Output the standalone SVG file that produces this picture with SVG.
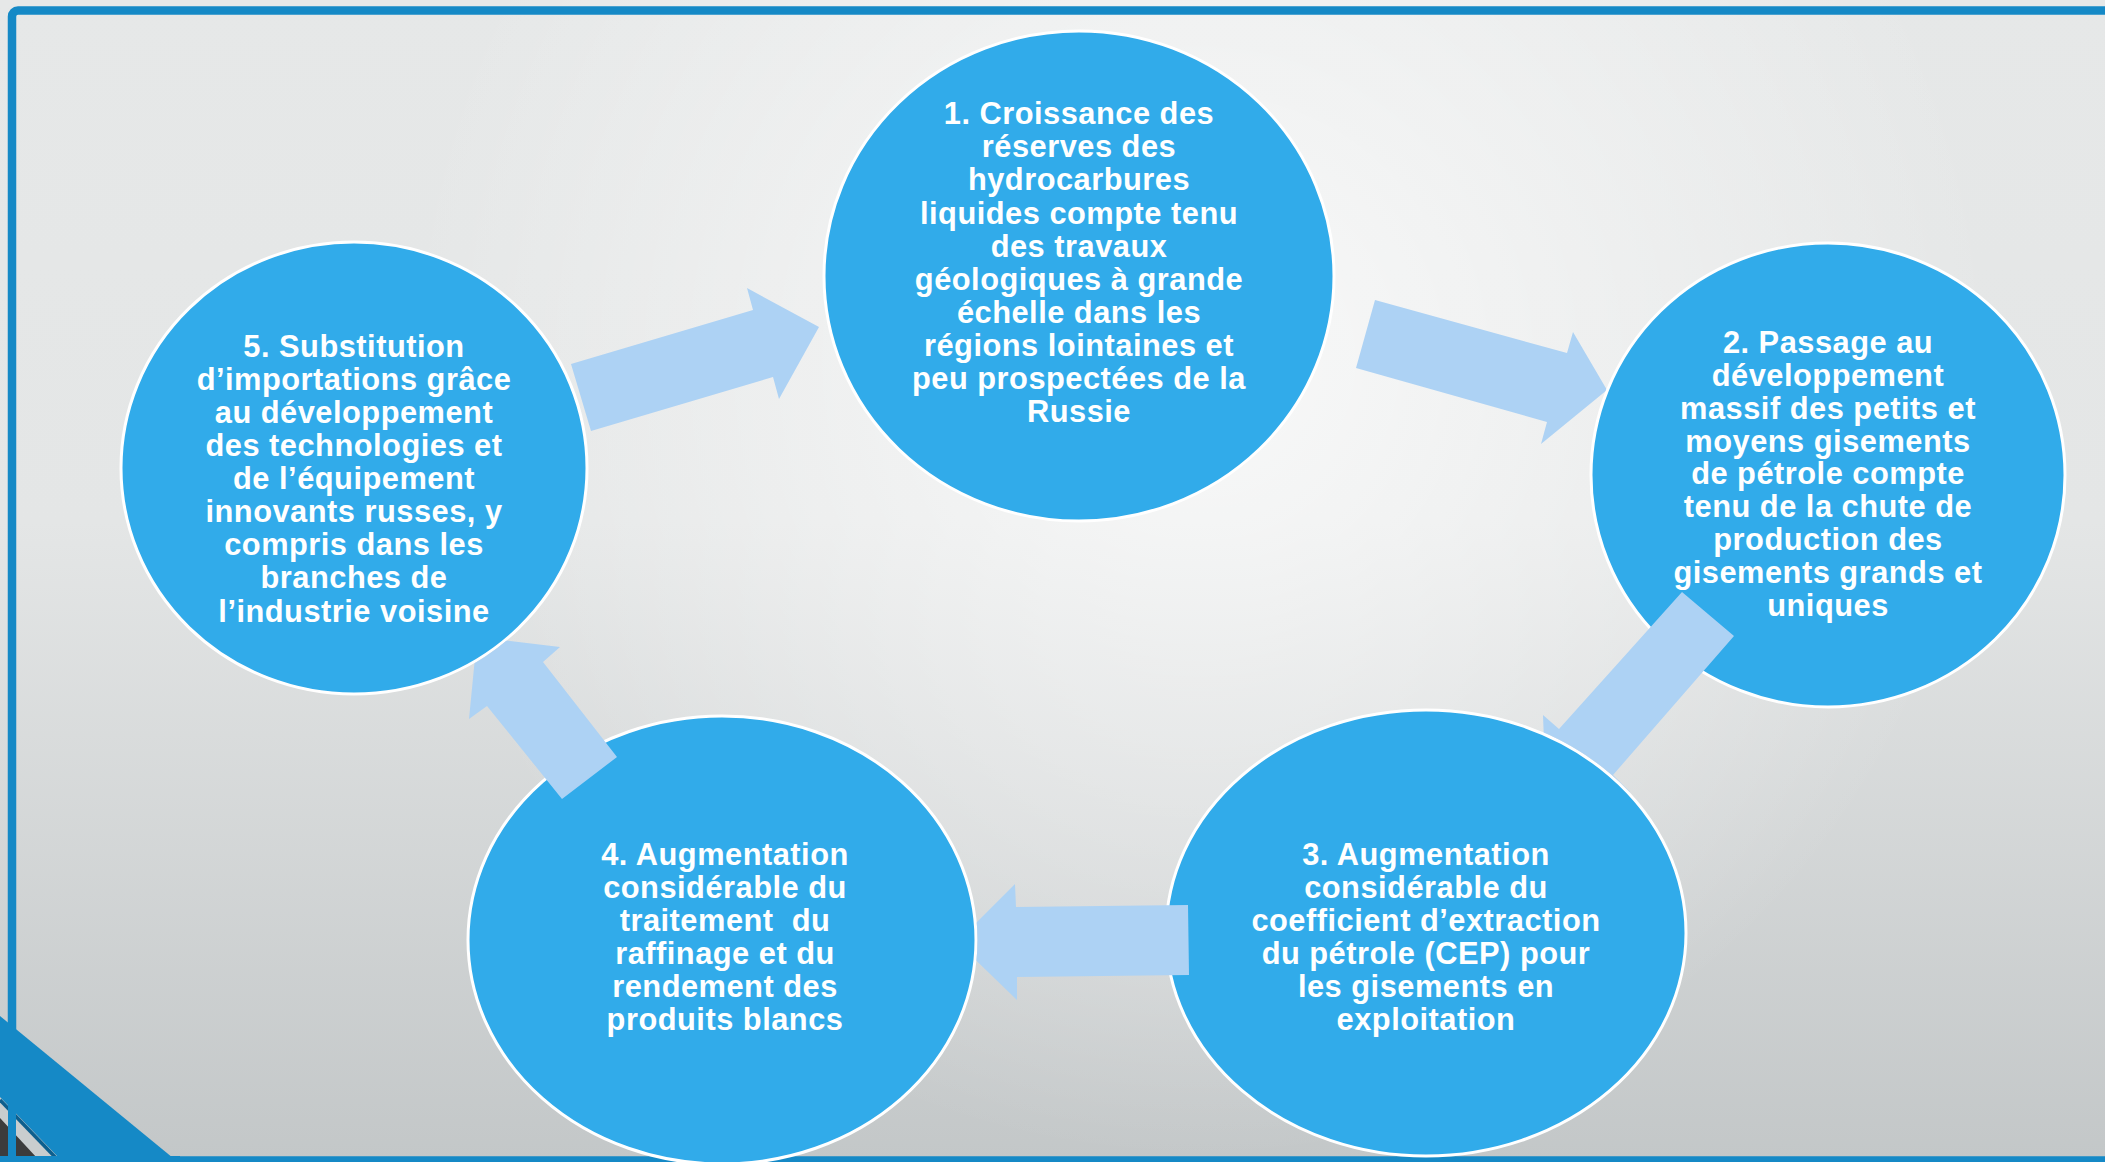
<svg xmlns="http://www.w3.org/2000/svg" width="2105" height="1162" viewBox="0 0 2105 1162">
<defs>
<linearGradient id="bgLin" x1="0" y1="0" x2="0" y2="1">
<stop offset="0" stop-color="#e6e8e8"/>
<stop offset="0.45" stop-color="#e4e6e6"/>
<stop offset="1" stop-color="#c3c7c8"/>
</linearGradient>
<radialGradient id="bgRad" gradientUnits="userSpaceOnUse" cx="1200" cy="360" r="800">
<stop offset="0" stop-color="#ffffff" stop-opacity="0.75"/>
<stop offset="1" stop-color="#ffffff" stop-opacity="0"/>
</radialGradient>
<clipPath id="clip2"><path clip-rule="evenodd" d="M0 0H2105V1162H0Z M1589.5,475 a238.5,233.5 0 1,0 477,0 a238.5,233.5 0 1,0 -477,0Z"/></clipPath>
<clipPath id="clip3"><path clip-rule="evenodd" d="M0 0H2105V1162H0Z M1164.5,933 a261.5,224.5 0 1,0 523,0 a261.5,224.5 0 1,0 -523,0Z"/></clipPath>
<clipPath id="clip4"><path clip-rule="evenodd" d="M0 0H2105V1162H0Z M466.5,940 a255.5,225.5 0 1,0 511,0 a255.5,225.5 0 1,0 -511,0Z"/></clipPath>
<clipPath id="clip5"><path clip-rule="evenodd" d="M0 0H2105V1162H0Z M119.5,468 a234.5,227.5 0 1,0 469,0 a234.5,227.5 0 1,0 -469,0Z"/></clipPath>
</defs>
<style>
.node ellipse { fill: #31abea; stroke: #ffffff; stroke-width: 3; }
.node text { font-family: "Liberation Sans", Arial, sans-serif; font-weight: bold; font-size: 30.8px; letter-spacing: 0.5px; fill: #ffffff; text-anchor: middle; }
.arrow { fill: #add2f4; }
.border { fill: none; stroke: #1589c6; stroke-width: 8.5; }
</style>
<rect x="0" y="0" width="2105" height="1162" fill="url(#bgLin)"/>
<rect x="0" y="0" width="2105" height="1162" fill="url(#bgRad)"/>
<rect class="border" x="12" y="10.5" width="2110" height="1150" rx="6"/>
<g id="corner-decoration">
<polygon points="0,1016 173,1158 0,1158" fill="#1589c6"/>
<polygon points="0,1097 59,1158 0,1158" fill="#c9cdce"/>
<line x1="0" y1="1100" x2="56" y2="1158" stroke="#0d5f8e" stroke-width="3.5"/>
<polygon points="0,1118 37,1158 0,1158" fill="#3c3c3c"/>
<line x1="12" y1="1080" x2="12" y2="1162" stroke="#1589c6" stroke-width="8"/>
<line x1="0" y1="1159" x2="180" y2="1159" stroke="#1589c6" stroke-width="6"/>
</g>
<g id="node1" class="node">
<ellipse cx="1079" cy="276" rx="255" ry="245"/>
<text x="1079" y="124">1. Croissance des</text>
<text x="1079" y="157">réserves des</text>
<text x="1079" y="190">hydrocarbures</text>
<text x="1079" y="224">liquides compte tenu</text>
<text x="1079" y="257">des travaux</text>
<text x="1079" y="290">géologiques à grande</text>
<text x="1079" y="323">échelle dans les</text>
<text x="1079" y="356">régions lointaines et</text>
<text x="1079" y="389">peu prospectées de la</text>
<text x="1079" y="422">Russie</text>
</g>
<g id="node2" class="node">
<ellipse cx="1828" cy="475" rx="237" ry="232"/>
<text x="1828" y="353">2. Passage au</text>
<text x="1828" y="386">développement</text>
<text x="1828" y="419">massif des petits et</text>
<text x="1828" y="452">moyens gisements</text>
<text x="1828" y="484">de pétrole compte</text>
<text x="1828" y="517">tenu de la chute de</text>
<text x="1828" y="550">production des</text>
<text x="1828" y="583">gisements grands et</text>
<text x="1828" y="616">uniques</text>
</g>
<g id="node3" class="node">
<ellipse cx="1426" cy="933" rx="260" ry="223"/>
<text x="1426" y="865">3. Augmentation</text>
<text x="1426" y="898">considérable du</text>
<text x="1426" y="931">coefficient d’extraction</text>
<text x="1426" y="964">du pétrole (CEP) pour</text>
<text x="1426" y="997">les gisements en</text>
<text x="1426" y="1030">exploitation</text>
</g>
<g id="node4" class="node">
<ellipse cx="722" cy="940" rx="254" ry="224"/>
<text x="725" y="865">4. Augmentation</text>
<text x="725" y="898">considérable du</text>
<text x="725" y="931" xml:space="preserve">traitement  du</text>
<text x="725" y="964">raffinage et du</text>
<text x="725" y="997">rendement des</text>
<text x="725" y="1030">produits blancs</text>
</g>
<g id="node5" class="node">
<ellipse cx="354" cy="468" rx="233" ry="226"/>
<text x="354" y="357">5. Substitution</text>
<text x="354" y="390">d’importations grâce</text>
<text x="354" y="423">au développement</text>
<text x="354" y="456">des technologies et</text>
<text x="354" y="489">de l’équipement</text>
<text x="354" y="522">innovants russes, y</text>
<text x="354" y="555">compris dans les</text>
<text x="354" y="588">branches de</text>
<text x="354" y="622">l’industrie voisine</text>
</g>
<g id="connectors">
<polygon id="arrow-5-1" class="arrow" points="571,364 753,310 747,288 819,327 779,399 773,377 591,431"/>
<polygon id="arrow-1-2" class="arrow" clip-path="url(#clip2)" points="1375,300 1567,353 1573,332 1607,390 1541,444 1547,422 1356,368"/>
<polygon id="arrow-2-3" class="arrow" clip-path="url(#clip3)" points="1682,592 1559,729 1543,715 1546,797 1630,792 1613,775 1734,636"/>
<polygon id="arrow-3-4" class="arrow" clip-path="url(#clip4)" points="1188,905 1016,907 1015,884 957,942 1017,1000 1017,977 1189,975"/>
<polygon id="arrow-4-5" class="arrow" clip-path="url(#clip5)" points="617,757 543,662 560,647 477,637 469,719 487,706 562,799"/>
</g>
</svg>
